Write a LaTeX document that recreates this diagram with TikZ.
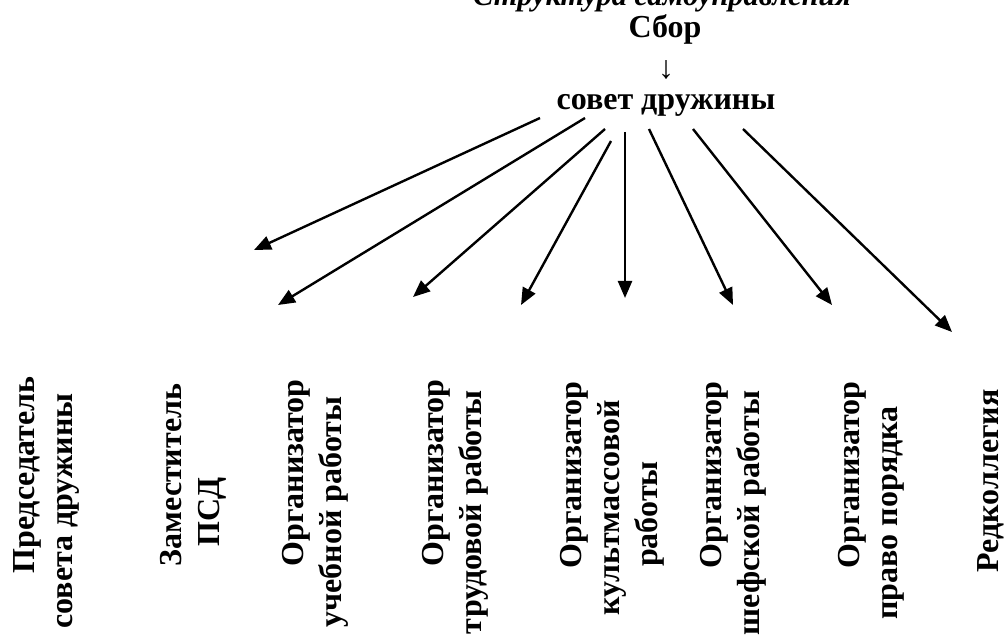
\documentclass[tikz,border=0pt]{standalone}
\usepackage{fontspec}
\setmainfont{Liberation Serif}
\usetikzlibrary{arrows.meta}
\begin{document}
\begin{tikzpicture}[x=0.5pt,y=-0.5pt,
  lbl/.style={font=\fontsize{16}{19}\selectfont\bfseries, inner sep=0pt, outer sep=0pt},
  vlbl/.style={lbl, rotate=90, anchor=base},
  conn/.style={line width=1.2pt, -{Triangle[length=8.5pt,width=7pt]}}]
\useasboundingbox (0,0) rectangle (1004,635);
\clip (0,0) rectangle (1004,635);
% title (clipped at top, as in the reference)
\node[lbl, font=\fontsize{15.2}{18}\selectfont\bfseries\itshape, anchor=base] (title) at (662,6) {Структура самоуправления};
\node[lbl, anchor=base] (sbor) at (665,38) {Сбор};
\node[lbl, anchor=base] (arr) at (666,79) {↓};
\node[lbl, anchor=base] (sovet) at (666,110) {совет дружины};
% arrow starts and tips
\coordinate (s1) at (540,118); \coordinate (t1) at (254,250);
\coordinate (s2) at (585,118); \coordinate (t2) at (278,305);
\coordinate (s3) at (605,129); \coordinate (t3) at (413,297);
\coordinate (s4) at (611,141); \coordinate (t4) at (521,305);
\coordinate (s5) at (625,132); \coordinate (t5) at (625,298);
\coordinate (s6) at (649,129); \coordinate (t6) at (733,305);
\coordinate (s7) at (693,129); \coordinate (t7) at (832,305);
\coordinate (s8) at (743,129); \coordinate (t8) at (952,332);
\foreach \i in {1,...,8} { \draw[conn] (s\i) -- (t\i); }
% vertical labels
\node[vlbl] (p1a) at (34,475) {Председатель};
\node[vlbl] (p1b) at (72,511) {совета дружины};
\node[vlbl] (p2a) at (181,475) {Заместитель};
\node[vlbl] (p2b) at (219,512) {ПСД};
\node[vlbl] (p3a) at (303,473) {Организатор};
\node[vlbl] (p3b) at (341,512) {учебной работы};
\node[vlbl] (p4a) at (443,473) {Организатор};
\node[vlbl] (p4b) at (481,512) {трудовой работы};
\node[vlbl] (p5a) at (581,475) {Организатор};
\node[vlbl] (p5b) at (619,508) {культмассовой};
\node[vlbl] (p5c) at (657,514) {работы};
\node[vlbl] (p6a) at (721,475) {Организатор};
\node[vlbl] (p6b) at (759,513) {шефской работы};
\node[vlbl] (p7a) at (859,475) {Организатор};
\node[vlbl] (p7b) at (897,513) {право порядка};
\node[vlbl] (p8a) at (998,481) {Редколлегия};
\end{tikzpicture}
\end{document}
